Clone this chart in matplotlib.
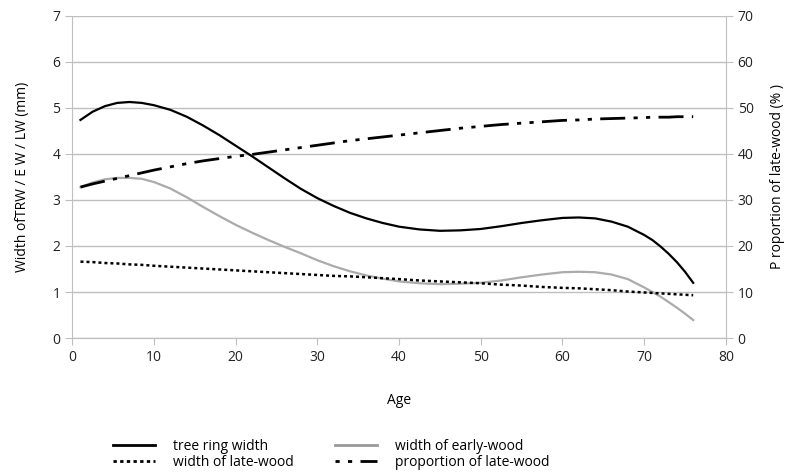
import matplotlib.pyplot as plt
from matplotlib.lines import Line2D

plt.rcParams['font.family'] = ['Open Sans', 'DejaVu Sans']
plt.rcParams['font.size'] = 10

# values
age = [1, 2.5, 4, 5.5, 7, 8.5, 10, 12, 14, 16, 18, 20, 22, 24, 26, 28, 30, 32, 34, 36, 38, 40,
       42.5, 45, 47.5, 50, 52.5, 55, 57.5, 60, 62, 64, 66, 68, 70, 71, 72, 73, 74, 75, 76]
trw = [4.74, 4.92, 5.04, 5.11, 5.13, 5.11, 5.06, 4.96, 4.81, 4.62, 4.41, 4.18, 3.95, 3.71, 3.47, 3.24, 3.04, 2.87, 2.72, 2.60, 2.50, 2.42,
       2.36, 2.33, 2.34, 2.37, 2.43, 2.50, 2.56, 2.61, 2.62, 2.60, 2.53, 2.42, 2.24, 2.13, 1.99, 1.83, 1.65, 1.44, 1.20]
early = [3.28, 3.38, 3.45, 3.48, 3.48, 3.46, 3.39, 3.25, 3.06, 2.85, 2.65, 2.46, 2.29, 2.13, 1.98, 1.84, 1.69, 1.56, 1.45, 1.36, 1.29, 1.23,
         1.19, 1.17, 1.18, 1.20, 1.25, 1.32, 1.38, 1.43, 1.44, 1.43, 1.38, 1.28, 1.10, 1.00, 0.90, 0.78, 0.66, 0.53, 0.39]
late = [1.66, 1.65, 1.63, 1.62, 1.60, 1.59, 1.57, 1.55, 1.53, 1.51, 1.49, 1.47, 1.45, 1.43, 1.41, 1.39, 1.37, 1.35, 1.34, 1.32, 1.30, 1.28,
        1.25, 1.23, 1.21, 1.19, 1.16, 1.14, 1.11, 1.09, 1.08, 1.06, 1.04, 1.01, 0.99, 0.98, 0.97, 0.96, 0.95, 0.94, 0.93]
prop = [32.8, 33.5, 34.1, 34.7, 35.3, 35.9, 36.5, 37.2, 37.9, 38.5, 39.0, 39.5, 39.9, 40.4, 40.9, 41.4, 41.9, 42.4, 42.9, 43.3, 43.7, 44.1,
        44.6, 45.1, 45.6, 46.0, 46.4, 46.7, 47.0, 47.3, 47.4, 47.6, 47.7, 47.8, 47.9, 48.0, 48.0, 48.0, 48.1, 48.1, 48.1]

fig = plt.figure(figsize=(7.98, 4.75), dpi=100)
ax = fig.add_axes([0.0906, 0.2884, 0.819, 0.678])
ax2 = ax.twinx()

grey = '#BFBFBF'
dashdotdot = (0, (9, 3, 1.5, 3, 1.5, 3))

ax.plot(age, trw, color='black', lw=1.6)
ax.plot(age, early, color='#ABABAB', lw=1.6)
ax.plot(age, late, color='black', lw=1.8, linestyle=(0, (1.2, 1.2)))
ax2.plot(age, prop, color='black', lw=2.0, linestyle=dashdotdot)

ax.set_xlim(0, 80)
ax.set_ylim(0, 7)
ax2.set_ylim(0, 70)
ax.set_xticks(range(0, 81, 10))
ax.set_yticks(range(0, 8))
ax2.set_yticks(range(0, 71, 10))

ax.yaxis.grid(True, color=grey, lw=1)
ax.set_axisbelow(True)
for a in (ax, ax2):
    a.spines['top'].set_visible(False)
    for side in ('left', 'right', 'bottom'):
        a.spines[side].set_color(grey)
    a.tick_params(colors=grey, labelcolor='#222222', length=5, labelsize=10)
ax2.spines['left'].set_visible(False)
ax.spines['right'].set_visible(False)

ax.set_xlabel('Age', labelpad=20)
ax.set_ylabel('Width ofTRW / E W / LW (mm)', labelpad=16)
ax2.set_ylabel('P roportion of late-wood (% )', labelpad=12)

handles = [
    Line2D([], [], color='black', lw=2),
    Line2D([], [], color='black', lw=2, linestyle=(0, (1.2, 1.2))),
    Line2D([], [], color='#999999', lw=2),
    Line2D([], [], color='black', lw=2, linestyle=(0, (1.5, 3, 1.5, 3, 9, 3))),
]
labels = ['tree ring width', 'width of late-wood', 'width of early-wood', 'proportion of late-wood']
fig.legend(handles, labels, ncol=2, frameon=False, loc='center',
           bbox_to_anchor=(0.415, 0.043), handlelength=3.0, columnspacing=3.0,
           handletextpad=1.3, labelspacing=0.1, fontsize=10)

fig.savefig('out.png', dpi=100)
